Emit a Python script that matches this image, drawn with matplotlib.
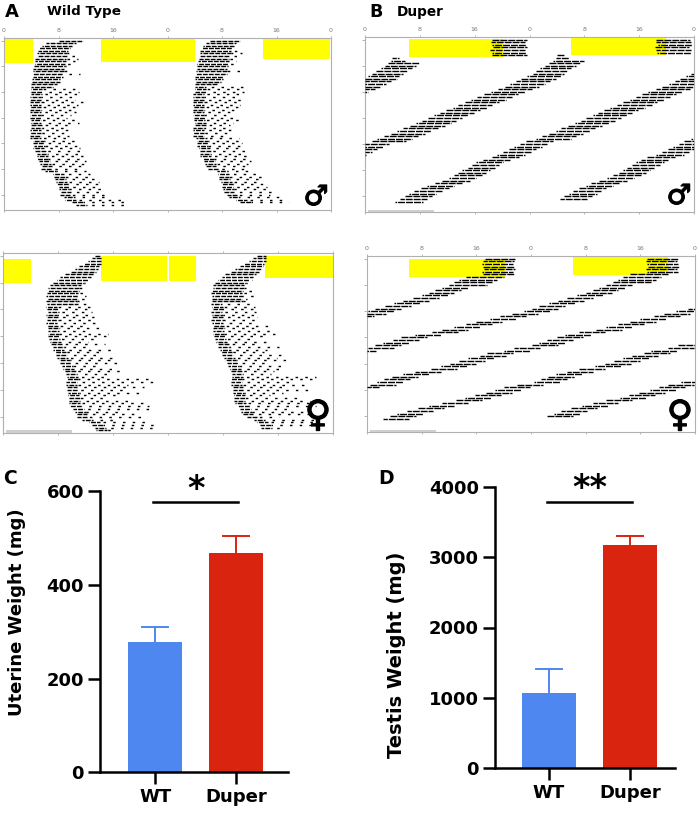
import matplotlib
matplotlib.use("Agg")
import matplotlib.pyplot as plt
import matplotlib.patheffects as pe
from matplotlib.patches import Rectangle

plt.rcParams["font.family"] = ["DejaVu Sans"]

W, H = 699, 816

# ---------------- actogram data (hours, one value per day row) ----------------
# wild type: activity onset / offset per day
wt_m_on = [8.0, 6.2, 5.6, 5.2, 5.0, 4.8, 4.8, 4.6, 4.6, 4.5,
           4.4, 4.3, 4.3, 4.2, 4.2, 4.1, 4.0, 4.0, 4.0, 4.0,
           4.0, 4.0, 3.8, 3.8, 3.8, 3.8, 3.8, 3.8, 3.8, 3.8,
           3.8, 3.9, 3.9, 4.0, 4.0, 3.8, 3.8, 3.8, 3.8, 4.2,
           4.3, 4.4, 4.3, 4.6, 4.8, 4.8, 4.8, 5.2, 5.3, 5.5,
           5.5, 6.0, 7.2, 7.4, 7.5, 7.6, 7.8, 8.0, 8.0, 8.2,
           8.2, 8.8, 9.0, 10.0, 10.6]
wt_m_off = [11.6, 10.6, 10.0, 9.7, 9.4, 10.5, 11.0, 10.8, 10.4, 10.0,
            10.1, 9.4, 9.2, 11.2, 8.7, 8.2, 8.2, 7.8, 7.2, 11.5,
            11.0, 11.2, 10.6, 10.4, 11.6, 10.8, 10.6, 10.4, 10.6, 9.8,
            9.2, 10.5, 11.0, 9.6, 9.2, 9.4, 9.7, 9.5, 9.2, 10.5,
            10.6, 11.0, 11.2, 11.4, 11.4, 11.6, 11.8, 12.0, 12.2, 11.8,
            11.6, 12.0, 12.6, 13.0, 14.0, 14.0, 14.0, 14.2, 14.6, 14.5,
            15.5, 15.0, 17.4, 17.6, 17.8]
wt_f_on = [13.4, 13.0, 12.4, 11.8, 11.0, 10.4, 9.8, 9.0, 8.3, 7.8,
           7.3, 6.9, 6.6, 6.5, 6.4, 6.3, 6.4, 6.2, 6.4, 6.3,
           6.4, 6.5, 6.3, 6.4, 6.4, 6.2, 6.4, 6.5, 6.5, 6.6,
           6.6, 6.7, 6.8, 7.0, 7.2, 7.3, 7.5, 7.7, 7.9, 8.1,
           8.3, 8.6, 8.8, 9.0, 9.2, 9.3, 9.3, 9.1, 9.1, 9.2,
           9.3, 9.4, 9.5, 9.6, 9.6, 9.6, 9.8, 10.2, 10.4, 10.6,
           10.8, 11.5, 12.5, 13.0, 13.4, 13.6]
wt_f_off = [14.3, 14.3, 14.3, 14.2, 14.0, 13.8, 13.5, 13.2, 12.9, 12.6,
            12.2, 11.8, 11.6, 11.4, 12.5, 12.0, 12.6, 11.5, 12.2, 12.8,
            12.6, 13.0, 12.8, 13.2, 13.0, 13.4, 12.4, 14.6, 12.8, 15.2,
            15.6, 13.8, 12.4, 14.8, 13.0, 16.2, 14.4, 14.0, 16.4, 15.8,
            17.5, 14.2, 16.8, 17.0, 15.4, 15.0, 21.5, 21.8, 18.2, 20.5,
            17.4, 20.6, 16.8, 14.8, 19.0, 20.6, 21.2, 21.5, 17.6, 20.0,
            21.0, 16.2, 21.6, 22.0, 21.8, 16.4]

# duper: onset phase per day (unwrapped, keeps going below 0 as it free-runs)
dup_m_on = [18.6, 18.4, 18.5, 18.7, 18.3, 18.5, 18.6, 4.0, 3.8, 3.4,
            2.9, 2.3, 1.6, 1.0, 0.5, -0.4, -1.2, -2.0, -2.8, -3.6,
            -4.6, -5.6, -6.7, -7.6, -8.5, -9.4, -10.4, -11.2, -12.2, -13.1,
            -14.0, -14.8, -15.7, -16.5, -17.4, -18.4, -19.4, -20.2, -21.2, -22.2,
            -23.0, -24.5, -25.4, -26.2, -27.0, -27.8, -28.7, -29.5, -30.8, -31.8,
            -32.4, -33.0, -33.8, -34.4, -35.0, -35.8, -36.7, -37.8, -39.0, -39.8,
            -40.8, -41.6, -42.2, -42.9, -43.6]
dup_m_dur = [5.0, 5.0, 5.0, 5.0, 5.0, 5.0, 5.0, 1.0, 2.0, 4.5,
             4.5, 4.5, 4.5, 4.5, 4.5, 5.0, 5.0, 5.0, 5.0, 5.0,
             5.0, 5.0, 5.0, 5.0, 5.0, 5.0, 5.0, 5.0, 5.0, 5.0,
             5.0, 5.0, 5.0, 5.0, 5.0, 5.0, 5.0, 5.0, 5.0, 5.0,
             5.0, 4.0, 4.0, 4.0, 4.0, 4.0, 4.0, 4.0, 4.0, 4.0,
             4.0, 4.0, 4.0, 4.0, 4.0, 4.0, 4.0, 4.0, 4.0, 4.0,
             4.0, 4.0, 4.0, 4.0, 4.0]
dup_f_on = [17.2, 17.0, 16.8, 17.0, 17.1, 16.9, 17.0, 14.5, 13.5, 12.8,
            12.0, 11.0, 10.0, 9.0, 8.0, 6.8, 5.2, 4.0, 2.6, 1.2,
            0.2, -1.0, -2.8, -4.5, -6.0, -8.0, -9.5, -11.2, -13.0, -14.5,
            -17.0, -19.0, -20.2, -21.6, -22.8, -23.8, -26.5, -28.0, -30.5, -31.5,
            -33.2, -34.5, -35.8, -37.2, -38.6, -41.0, -42.8, -44.4, -45.5, -46.6,
            -47.6, -50.0, -52.0, -53.2, -54.6, -56.2, -57.6, -59.0, -61.0, -63.0,
            -64.5, -66.2, -67.6, -68.6, -69.6]
dup_f_dur = [4.5, 4.5, 4.5, 4.5, 4.5, 4.5, 4.5, 5.5, 5.5, 5.5,
             5.5, 3.8, 3.8, 3.8, 3.8, 3.8, 3.8, 3.8, 3.8, 3.8,
             3.8, 3.8, 3.8, 3.8, 3.8, 3.8, 3.8, 3.8, 3.8, 3.8,
             3.8, 3.8, 3.8, 3.8, 3.8, 3.8, 3.8, 3.8, 3.8, 3.8,
             3.8, 3.8, 3.8, 3.8, 3.8, 3.8, 3.8, 3.8, 3.8, 3.8,
             3.8, 3.8, 3.8, 3.8, 3.8, 3.8, 3.8, 3.8, 3.8, 3.8,
             3.8, 3.8, 3.8, 3.8, 3.8]

# yellow boxes: (hour start, hour end, first row, last row)
light_wt_m = [(0, 4.2, -1, 8.9), (14.2, 24, -1, 8.2), (24.1, 28.1, -1, 8.2), (38.0, 47.8, -1, 7.3)]
light_wt_f = [(0, 4.1, 1.3, 10.0), (14.2, 23.9, 0.1, 9.3), (24.2, 28.1, 0.1, 9.3), (38.1, 48, 0.1, 8.3)]
light_dup_m = [(6.4, 20.1, -0.1, 6.8), (30.0, 43.9, -1, 5.9)]
light_dup_f = [(6.2, 20.2, 0.3, 7.1), (30.1, 44.1, -0.7, 6.2)]

hour_ticks = [0, 8, 16, 24, 32, 40, 48]
hour_labels = ["0", "8", "16", "0", "8", "16", "0"]

# ---------------- organ weights ----------------
groups = ["WT", "Duper"]
uterine_mean = [277, 467]
uterine_sem = [33, 37]
testis_mean = [1065, 3172]
testis_sem = [340, 128]
bar_colors = ["#4F87F0", "#D92410"]

fig = plt.figure(figsize=(W / 100, H / 100), dpi=100)


def px_axes(l, t, r, b):
    return fig.add_axes([l / W, 1 - b / H, (r - l) / W, (b - t) / H])


def draw_rows(ax, starts, ends, nrows, dash, shift=0.0):
    # double plot: row r shows hours [24r, 24r + 48]
    ys, x0, x1, styles = [], [], [], []
    period = dash[0] + dash[1]
    for r in range(nrows):
        lo = 24 * r
        for s, e in zip(starts, ends):
            a = max(s, lo)
            b = min(e, lo + 48)
            if b > a:
                ys.append(r)
                x0.append(a - lo)
                x1.append(b - lo)
                styles.append(((r * shift) % period, dash))
    ax.hlines(ys, x0, x1, colors="black", linewidth=1.0, linestyles=styles, zorder=3)


def actogram(ax, light, labels=True):
    ax.set_xlim(0, 48)
    ax.set_ylim(66, -1)
    for h0, h1, d0, d1 in light:
        ax.add_patch(Rectangle((h0, d0), h1 - h0, d1 - d0, facecolor="#FFFF00", lw=0, zorder=1))
    ax.set_xticks(hour_ticks)
    ax.set_xticklabels(hour_labels)
    ax.tick_params(axis="x", top=True, bottom=True, labeltop=labels, labelbottom=False,
                   length=1.5, width=0.5, color="#999999", labelsize=4.5,
                   labelcolor="#777777", pad=2)
    ax.set_yticks(range(0, 61, 10))
    ax.set_yticklabels([])
    ax.tick_params(axis="y", length=2, width=0.5, color="#999999")
    for s in ax.spines.values():
        s.set_color("#b0b0b0")
        s.set_linewidth(0.8)


def wt_rows(ax, on, off):
    ds, de, ss, se = [], [], [], []
    for d, (a, b) in enumerate(zip(on, off)):
        dl = min(b - a, 4.5 if d < 19 else 1.6)
        ds.append(24 * d + a)
        de.append(24 * d + a + dl)
        ss.append(24 * d + a + dl)
        se.append(24 * d + b)
    draw_rows(ax, ds, de, len(on), (3.5, 0.8), 1.3)
    draw_rows(ax, ss, se, len(on), (1.8, 5.2), 2.9)


def dup_rows(ax, on, dur):
    st = [24 * d + a for d, a in enumerate(on)]
    en = [s + w for s, w in zip(st, dur)]
    draw_rows(ax, st, en, len(on), (5, 0.7), 1.9)


def scroll(ax):
    ax.add_patch(Rectangle((0.01, 0.0), 0.2, 0.014, transform=ax.transAxes,
                           facecolor="#cfcfcf", lw=0, zorder=4, clip_on=False))


ax_a1 = px_axes(4, 38, 331, 210)
actogram(ax_a1, light_wt_m)
wt_rows(ax_a1, wt_m_on, wt_m_off)

ax_a2 = px_axes(3, 253, 333, 433)
actogram(ax_a2, light_wt_f, labels=False)
wt_rows(ax_a2, wt_f_on, wt_f_off)
scroll(ax_a2)

ax_b1 = px_axes(365, 37, 694, 212)
actogram(ax_b1, light_dup_m)
dup_rows(ax_b1, dup_m_on, dup_m_dur)
scroll(ax_b1)

ax_b2 = px_axes(367, 256, 695, 432)
actogram(ax_b2, light_dup_f)
dup_rows(ax_b2, dup_f_on, dup_f_dur)
scroll(ax_b2)

# sex symbols
stroke = [pe.withStroke(linewidth=0.9, foreground="black")]
for x, y, sym, fs in [(316, 197, "\u2642", 20), (679, 196, "\u2642", 20),
                      (318, 416, "\u2640", 26), (680, 416, "\u2640", 26)]:
    fig.text(x / W, 1 - y / H, sym, fontsize=fs, fontweight="bold", ha="center",
             va="center", path_effects=stroke)

# panel titles
fig.text(5 / W, 1 - 12 / H, "A", fontsize=13, fontweight="bold", va="center")
fig.text(47 / W, 1 - 12 / H, "Wild Type", fontsize=9.7, fontweight="bold", va="center")
fig.text(369 / W, 1 - 12 / H, "B", fontsize=12.6, fontweight="bold", va="center")
fig.text(397 / W, 1 - 12 / H, "Duper", fontsize=9.8, fontweight="bold", va="center")
fig.text(3 / W, 1 - 478 / H, "C", fontsize=13.5, fontweight="bold", va="center")
fig.text(378 / W, 1 - 479 / H, "D", fontsize=13.5, fontweight="bold", va="center")


def bar_panel(ax, means, sems, ymax, step, xlim, stars, sig_y, star_y):
    x = [0, 1]
    for xi, m, s, c in zip(x, means, sems, bar_colors):
        ax.plot([xi, xi], [m, m + s], color=c, lw=1.4, zorder=1)
        ax.plot([xi - 0.16, xi + 0.16], [m + s, m + s], color=c, lw=1.4, zorder=1)
    ax.bar(x, means, width=0.67, color=bar_colors, zorder=2)
    ax.set_xlim(*xlim)
    ax.set_ylim(0, ymax)
    ax.set_yticks(range(0, ymax + 1, step))
    ax.set_xticks(x)
    ax.set_xticklabels(groups)
    for side in ["top", "right"]:
        ax.spines[side].set_visible(False)
    for side in ["left", "bottom"]:
        ax.spines[side].set_linewidth(1.8)
    ax.tick_params(axis="both", length=8.5, width=1.8, labelsize=13, pad=3)
    for lab in ax.get_xticklabels() + ax.get_yticklabels():
        lab.set_fontweight("bold")
    ax.plot([-0.02, 1.02], [sig_y, sig_y], color="black", lw=1.8, clip_on=False)
    ax.text(0.5, star_y, stars, ha="center", va="baseline", fontsize=24,
            fontweight="bold", clip_on=False)


ax_c = px_axes(100, 491, 288, 772.3)
bar_panel(ax_c, uterine_mean, uterine_sem, 600, 200, (-0.68, 1.64), "*", 576.5, 582)
fig.text(17.5 / W, 1 - 612 / H, "Uterine Weight (mg)", rotation=90, fontsize=13,
         fontweight="bold", ha="center", va="center")

ax_d = px_axes(495, 486.7, 675, 768.3)
bar_panel(ax_d, testis_mean, testis_sem, 4000, 1000, (-0.667, 1.556), "**", 3778, 3835)
fig.text(397 / W, 1 - 655 / H, "Testis Weight (mg)", rotation=90, fontsize=14,
         fontweight="bold", ha="center", va="center")

fig.savefig("out.png", dpi=100)
